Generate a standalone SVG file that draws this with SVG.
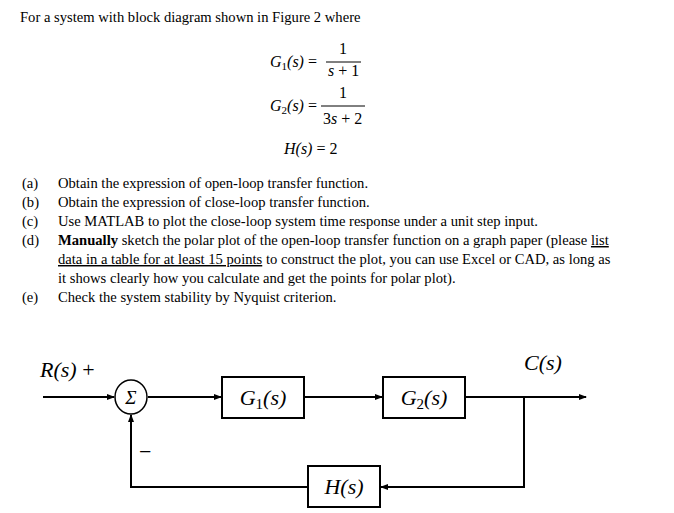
<svg xmlns="http://www.w3.org/2000/svg" width="674" height="513" viewBox="0 0 674 513">
<style>
.t{font-family:"Liberation Serif",serif;font-size:14.6px;fill:#000}
.m{font-family:"Liberation Serif",serif;font-style:italic;font-size:16px;fill:#000}
.n{font-family:"Liberation Serif",serif;font-style:normal;font-size:16px;fill:#000}
.sub{font-family:"Liberation Serif",serif;font-style:normal;font-size:11px}
.bsub{font-family:"Liberation Serif",serif;font-style:normal;font-size:15px}
.b{font-family:"Liberation Serif",serif;font-style:italic;font-size:22px;fill:#000}
.bs{font-family:"Liberation Serif",serif;font-style:normal;font-size:22px;fill:#000}
.box{fill:#fff;stroke:#000;stroke-width:2}
.ln{fill:none;stroke:#000;stroke-width:2}
</style>
<defs><marker id="a" markerWidth="8" markerHeight="8" refX="7" refY="4" orient="auto" markerUnits="userSpaceOnUse"><path d="M0,1 L8,4 L0,7 Z" fill="#000"/></marker></defs>
<rect width="674" height="513" fill="#fff"/>
<text class="t" x="20" y="22">For a system with block diagram shown in Figure 2 where</text>
<g id="eqs">
<text class="m" x="270" y="67">G<tspan class="sub" dy="3">1</tspan><tspan dy="-3">(s) </tspan><tspan class="n">=</tspan></text>
<text class="n" x="339" y="54">1</text>
<line x1="326" y1="62" x2="361" y2="62" stroke="#000" stroke-width="1"/>
<text class="m" x="328" y="76">s <tspan class="n">+ 1</tspan></text>
<text class="m" x="270" y="111">G<tspan class="sub" dy="3">2</tspan><tspan dy="-3">(s) </tspan><tspan class="n">=</tspan></text>
<text class="n" x="339" y="98">1</text>
<line x1="321" y1="106" x2="365" y2="106" stroke="#000" stroke-width="1"/>
<text class="n" x="323" y="124">3<tspan class="m">s</tspan> + 2</text>
<text class="m" x="284" y="154">H(s) <tspan class="n">= 2</tspan></text>
</g>
<g id="list">
<text class="t" x="22" y="188">(a)</text><text class="t" x="58" y="188">Obtain the expression of open-loop transfer function.</text>
<text class="t" x="22" y="207">(b)</text><text class="t" x="58" y="207">Obtain the expression of close-loop transfer function.</text>
<text class="t" x="22" y="226">(c)</text><text class="t" x="58" y="226">Use MATLAB to plot the close-loop system time response under a unit step input.</text>
<text class="t" x="22" y="245">(d)</text><text class="t" x="58" y="245"><tspan font-weight="bold">Manually</tspan> sketch the polar plot of the open-loop transfer function on a graph paper (please <tspan text-decoration="underline">list</tspan></text>
<text class="t" x="58" y="264"><tspan text-decoration="underline">data in a table for at least 15 points</tspan> to construct the plot, you can use Excel or CAD, as long as</text>
<text class="t" x="58" y="283">it shows clearly how you calculate and get the points for polar plot).</text>
<text class="t" x="22" y="302">(e)</text><text class="t" x="58" y="302">Check the system stability by Nyquist criterion.</text>
</g>
<g id="connectors">
<line class="ln" x1="43" y1="397" x2="114" y2="397" marker-end="url(#a)"/>
<line class="ln" x1="148" y1="397" x2="221" y2="397" marker-end="url(#a)"/>
<line class="ln" x1="305" y1="397" x2="382" y2="397" marker-end="url(#a)"/>
<line class="ln" x1="466" y1="397" x2="586" y2="397" marker-end="url(#a)"/>
<polyline class="ln" points="524,397 524,487 381,487" marker-end="url(#a)"/>
<polyline class="ln" points="307,487 131,487 131,415" marker-end="url(#a)"/>
</g>
<g id="sum"><ellipse cx="131" cy="397" rx="16" ry="17" fill="#fff" stroke="#000" stroke-width="1.5"/><text class="m" x="131" y="404" text-anchor="middle" style="font-size:19px">Σ</text></g>
<g id="G1"><rect class="box" x="222" y="377" width="82" height="41"/><text class="b" x="263" y="405" text-anchor="middle">G<tspan class="bsub" dy="4">1</tspan><tspan dy="-4">(s)</tspan></text></g>
<g id="G2"><rect class="box" x="383" y="377" width="82" height="41"/><text class="b" x="424" y="405" text-anchor="middle">G<tspan class="bsub" dy="4">2</tspan><tspan dy="-4">(s)</tspan></text></g>
<g id="H"><rect class="box" x="308" y="466" width="72" height="41"/><text class="b" x="344" y="494" text-anchor="middle">H(s)</text></g>
<text class="b" x="40" y="377">R(s) <tspan class="bs">+</tspan></text>
<text class="b" x="524" y="370">C(s)</text>
<text class="bs" x="139" y="459">−</text>
</svg>
